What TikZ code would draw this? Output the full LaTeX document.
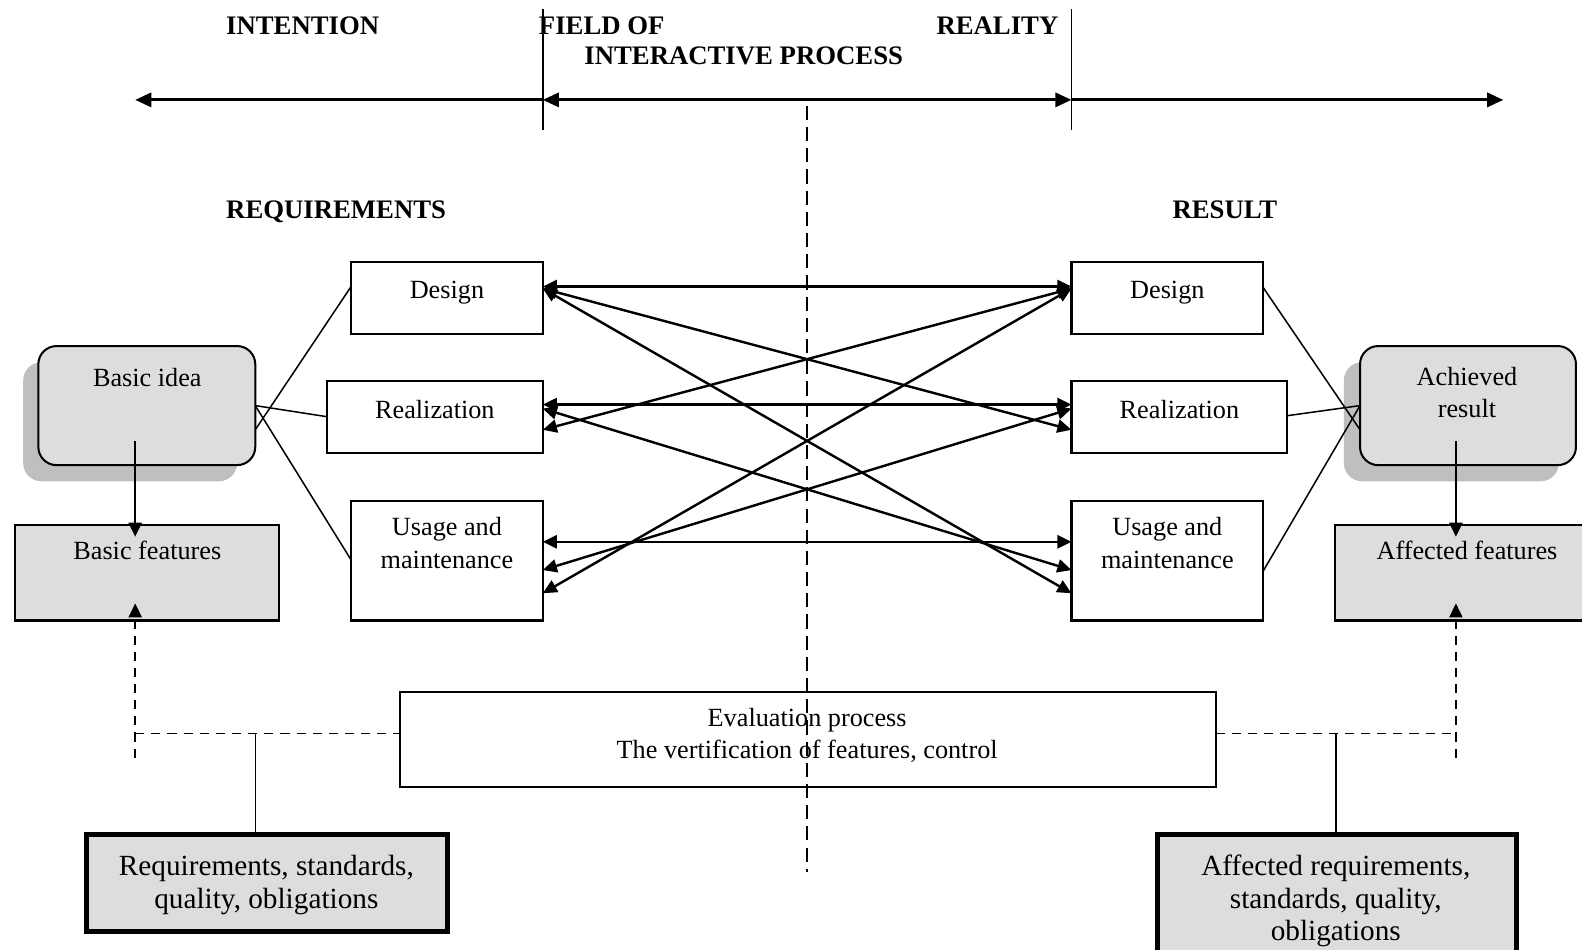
\documentclass[tikz,border=0pt]{standalone}
\usepackage{fontspec}
\setmainfont{Liberation Serif}
\usetikzlibrary{arrows.meta,calc}
\definecolor{boxgray}{HTML}{DDDDDD}
\definecolor{shadowgray}{HTML}{BFBFBF}
\begin{document}
\begin{tikzpicture}[x=1pt,y=-1pt,
  txt/.style={font=\fontsize{26}{32}\selectfont, inner sep=0pt, align=center},
  hdr/.style={font=\fontsize{26.5}{30}\selectfont\bfseries, inner sep=0pt, anchor=base west},
  box/.style={draw, line width=2pt, inner sep=0pt, outer sep=0pt, anchor=north west},
  rbox/.style={box, rounded corners=18pt, fill=boxgray},
  shadowbox/.style={fill=shadowgray, rounded corners=18pt, inner sep=0pt, outer sep=0pt, anchor=north west},
  thickbox/.style={box, line width=5pt, fill=boxgray},
  fan/.style={line width=1.5pt},
  vline/.style={line width=1.6pt},
  hdrarrow/.style={line width=3pt},
  tipbig/.tip={Triangle[length=16pt,width=14pt]},
  tipmid/.tip={Triangle[length=14pt,width=13pt]},
  link/.style={line width=2.4pt, tipmid-tipmid},
  darrow/.style={line width=2.4pt, -tipmid},
  cdash/.style={line width=1.6pt, dash pattern=on 14pt off 7pt},
  bdash/.style={line width=1.8pt, dash pattern=on 9pt off 7pt}
]
\useasboundingbox (0,0) rectangle (1568,941);

% header
\node[hdr] (hint) at (224,34) {INTENTION};
\node[hdr] (hfield) at (534,34) {FIELD OF};
\node[hdr] (hinter) at (579,63.5) {INTERACTIVE PROCESS};
\node[hdr] (hreal) at (928,34) {REALITY};
\node[hdr] (hreq) at (224,217) {REQUIREMENTS};
\node[hdr] (hres) at (1162,217) {RESULT};

\coordinate (vla) at (538,9);  \coordinate (vlb) at (538,129);
\coordinate (vra) at (1062,9); \coordinate (vrb) at (1062,129);
\coordinate (axl) at (134,99); \coordinate (axm1) at (538,99);
\coordinate (axm2) at (1062,99); \coordinate (axr) at (1490,99);
\draw[vline] (vla) -- (vlb);
\draw[vline] (vra) -- (vrb);
\draw[hdrarrow, -tipbig] (axm1) -- (axl);
\draw[hdrarrow, tipbig-tipbig] (axm1) -- (axm2);
\draw[hdrarrow, -tipbig] (axm2) -- (axr);

% shadows
\node[shadowbox, minimum width=212pt, minimum height=118pt] (bish) at (23,359) {};
\node[shadowbox, minimum width=213pt, minimum height=118pt] (arsh) at (1332,359) {};

% boxes
\node[rbox, minimum width=215pt, minimum height=118pt] (bi) at (38,343) {};
\node[rbox, minimum width=214pt, minimum height=118pt] (ar) at (1348,343) {};
\node[box, fill=boxgray, minimum width=262pt, minimum height=95pt] (bf) at (15,520) {};
\node[box, fill=boxgray, minimum width=280pt, minimum height=95pt] (af) at (1323,520) {};
\node[box, minimum width=190pt, minimum height=71pt] (dl) at (348,260) {};
\node[box, minimum width=214pt, minimum height=71pt] (rl) at (324,378) {};
\node[box, minimum width=190pt, minimum height=118pt] (ul) at (348,497) {};
\node[box, minimum width=190pt, minimum height=71pt] (dr) at (1062,260) {};
\node[box, minimum width=214pt, minimum height=71pt] (rr) at (1062,378) {};
\node[box, minimum width=190pt, minimum height=118pt] (ur) at (1062,497) {};
\node[box, minimum width=809pt, minimum height=94pt] (ev) at (396,686) {};
\node[thickbox, minimum width=357.5pt, minimum height=95.5pt] (rq) at (86,827.5) {};
\node[thickbox, minimum width=356pt, minimum height=160pt] (arq) at (1147,827.5) {};

% texts
\node[txt, anchor=base] (bit) at (146,383) {Basic idea};
\node[txt, anchor=north] (art) at (1454,364) {Achieved\\result};
\node[txt, anchor=base] (bft) at (146,555) {Basic features};
\node[txt, anchor=base] (aft) at (1454,555) {Affected features};
\node[txt, anchor=base] (dlt) at ($(dl.north)+(0,36)$) {Design};
\node[txt, anchor=base] (rlt) at ($(rl.north)+(0,36.5)$) {Realization};
\node[txt, anchor=north] (ult) at ($(ul.north)+(0,16)$) {Usage and\\maintenance};
\node[txt, anchor=base] (drt) at ($(dr.north)+(0,36)$) {Design};
\node[txt, anchor=base] (rrt) at ($(rr.north)+(0,36.5)$) {Realization};
\node[txt, anchor=north] (urt) at ($(ur.north)+(0,16)$) {Usage and\\maintenance};
\node[txt, anchor=north, font=\fontsize{26}{31.5}\selectfont] (evt) at (800,702) {Evaluation process\\The vertification of features, control};
\node[txt, anchor=north, font=\fontsize{29}{33}\selectfont] (rqt) at (264,847) {Requirements, standards,\\quality, obligations};
\node[txt, anchor=north, font=\fontsize{29}{32.5}\selectfont] (arqt) at (1324,847) {Affected requirements,\\standards, quality,\\obligations};

% fan lines
\draw[fan] ($(bi.north east)+(0,83)$) -- ($(dl.north west)+(0,24)$);
\draw[fan] ($(bi.north east)+(0,59)$) -- ($(rl.north west)+(0,35)$);
\draw[fan] ($(bi.north east)+(0,59)$) -- ($(ul.north west)+(0,58)$);
\draw[fan] ($(dr.north east)+(0,25)$) -- ($(ar.north west)+(0,83)$);
\draw[fan] ($(rr.north east)+(0,34)$) -- ($(ar.north west)+(0,59)$);
\draw[fan] ($(ur.north east)+(0,69)$) -- ($(ar.north west)+(0,59)$);

% interaction links
\draw[link] ($(dl.north east)+(0,24)$) -- ($(dr.north west)+(0,24)$);
\draw[link] ($(rl.north east)+(0,23)$) -- ($(rr.north west)+(0,23)$);
\draw[link] ($(ul.north east)+(0,40)$) -- ($(ur.north west)+(0,40)$);
\draw[link] ($(dl.north east)+(0,26)$) -- ($(rr.north west)+(0,48)$);
\draw[link] ($(dl.north east)+(0,26)$) -- ($(ur.north west)+(0,91)$);
\draw[link] ($(rl.north east)+(0,48)$) -- ($(dr.north west)+(0,26)$);
\draw[link] ($(rl.north east)+(0,27)$) -- ($(ur.north west)+(0,68)$);
\draw[link] ($(ul.north east)+(0,68)$) -- ($(rr.north west)+(0,27)$);
\draw[link] ($(ul.north east)+(0,91)$) -- ($(dr.north west)+(0,26)$);

% down arrows
\draw[darrow] ($(bi.north west)+(96,94)$) -- ($(bf.north west)+(119,12)$);
\draw[darrow] ($(ar.north west)+(95,94)$) -- ($(af.north west)+(120,12)$);

% evaluation connections
\coordinate (ljb) at (134,751); \coordinate (lj) at (134,727); \coordinate (lt) at (253,727);
\coordinate (rjb) at (1443,751); \coordinate (rj) at (1443,727); \coordinate (rt) at (1324,727);
\draw[bdash, -tipmid] (ljb) -- ($(bf.north west)+(119,78)$);
\draw[bdash] (lj) -- ($(ev.north west)+(0,41)$);
\draw[bdash, -tipmid] (rjb) -- ($(af.north west)+(120,78)$);
\draw[bdash] ($(ev.north east)+(0,41)$) -- (rj);
\draw[fan] (lt) -- ($(rq.north west)+(167,0)$);
\draw[fan] (rt) -- ($(arq.north west)+(177,0)$);

% central dashed axis
\coordinate (cta) at (800,105); \coordinate (ctb) at (800,864);
\draw[cdash] (cta) -- (ctb);
\end{tikzpicture}
\end{document}
